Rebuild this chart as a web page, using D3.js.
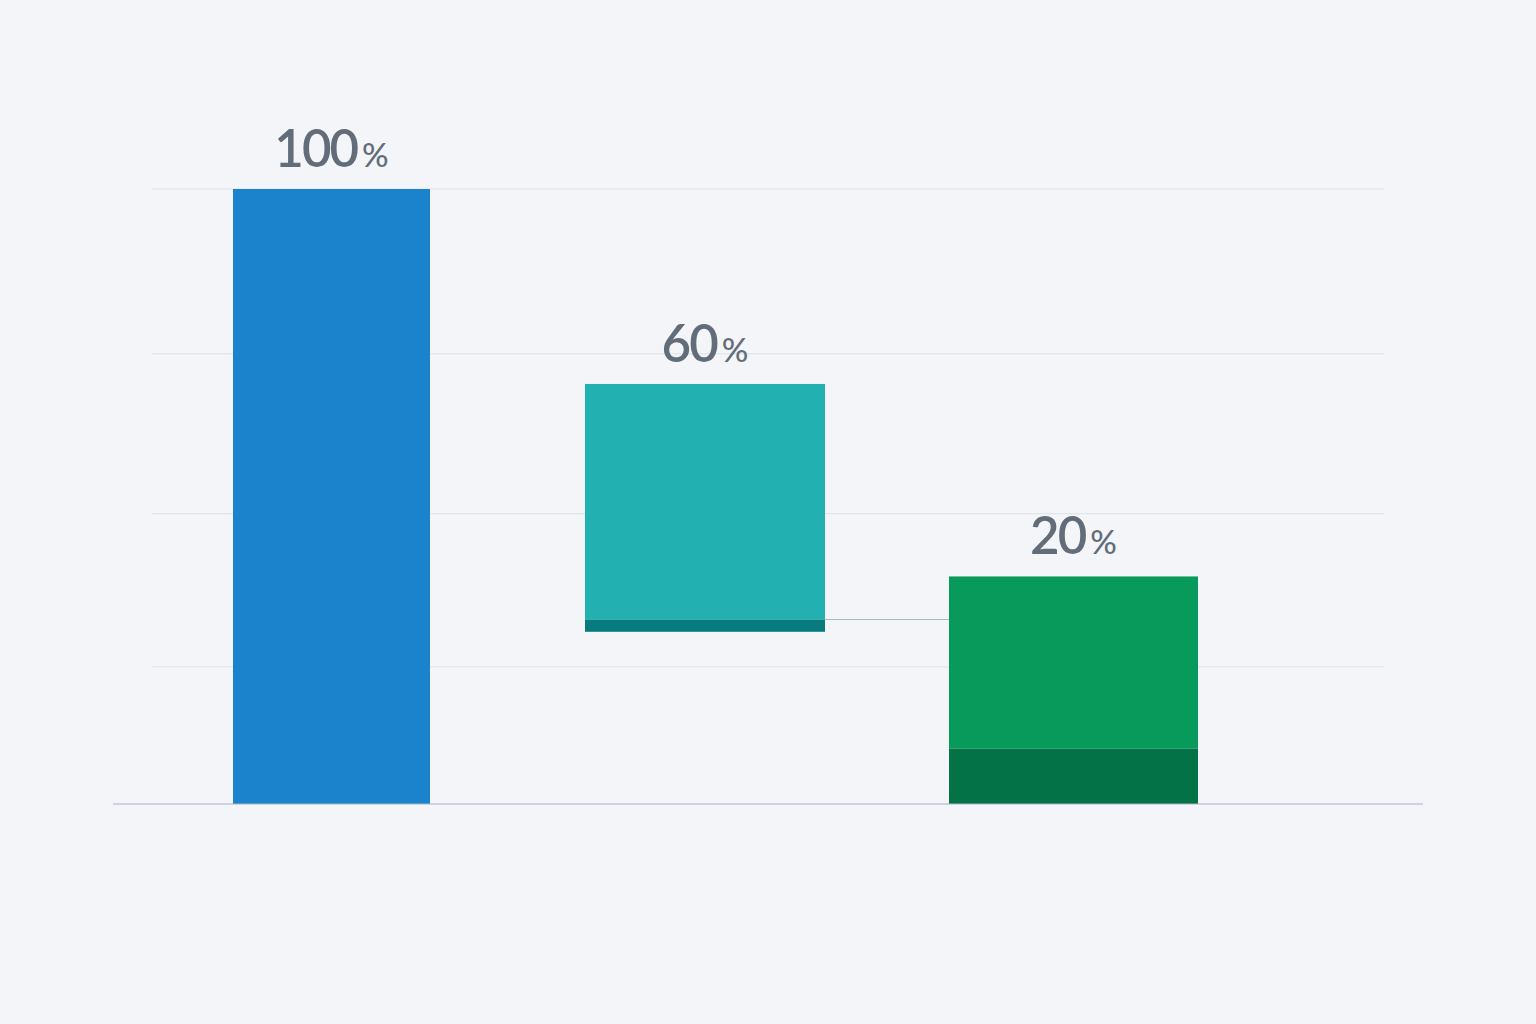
<!DOCTYPE html>
<html>
<head>
<meta charset="utf-8">
<script src="https://cdn.jsdelivr.net/npm/d3@7"></script>
<style>
  html, body { margin: 0; padding: 0; background: #f4f5f8; }
  svg { display: block; }
</style>
</head>
<body>
<svg width="1536" height="1024"></svg>
<script>
// data
var categories = ["A", "B", "C"];
var labels = ["100", "60", "20"];
// main segment [from, to] in % of first bar
var mainFrom = [0, 30, 9];
var mainTo = [100, 68.3, 37];
// darker base segment under each bar (none for first)
var baseFrom = [null, 28, 0];
var baseTo = [null, 30, 9];
var mainColors = ["#1a83cc", "#22b0b0", "#079a5a"];
var baseColors = [null, "#077b7d", "#037246"];
var gridValues = [100, 73.2, 47.2, 22.3];

var svg = d3.select("svg");

var y = d3.scaleLinear().domain([0, 100]).range([804, 189]);
// bars are not evenly spaced, keep a band per slot
var xLeft = d3.scaleOrdinal().domain(categories).range([233, 585, 949]);
var xWidth = d3.scaleOrdinal().domain(categories).range([197, 240, 249]);

// gridlines
svg.append("g").selectAll("line")
  .data(gridValues)
  .enter().append("line")
  .attr("x1", 152).attr("x2", 1384)
  .attr("y1", function(d) { return y(d); })
  .attr("y2", function(d) { return y(d); })
  .attr("stroke", "#dde1e8")
  .attr("stroke-width", 1);

// connector between 2nd and 3rd bar
svg.append("line")
  .attr("x1", xLeft("B") + xWidth("B"))
  .attr("x2", xLeft("C"))
  .attr("y1", y(30)).attr("y2", y(30))
  .attr("stroke", "#a3bcc4")
  .attr("stroke-width", 1.2);

var g = svg.append("g");

g.selectAll(".bar")
  .data(categories)
  .enter().append("rect")
  .attr("class", "bar")
  .attr("x", function(d) { return xLeft(d); })
  .attr("width", function(d) { return xWidth(d); })
  .attr("y", function(d, i) { return y(mainTo[i]); })
  .attr("height", function(d, i) { return y(mainFrom[i]) - y(mainTo[i]); })
  .attr("fill", function(d, i) { return mainColors[i]; });

g.selectAll(".base")
  .data(categories.filter(function(d, i) { return baseFrom[i] !== null; }))
  .enter().append("rect")
  .attr("class", "base")
  .attr("x", function(d) { return xLeft(d); })
  .attr("width", function(d) { return xWidth(d); })
  .attr("y", function(d) { var i = categories.indexOf(d); return y(baseTo[i]); })
  .attr("height", function(d) { var i = categories.indexOf(d); return y(baseFrom[i]) - y(baseTo[i]); })
  .attr("fill", function(d) { return baseColors[categories.indexOf(d)]; });

// baseline axis
svg.append("line")
  .attr("x1", 113).attr("x2", 1423)
  .attr("y1", y(0)).attr("y2", y(0))
  .attr("stroke", "#a6b4c8")
  .attr("stroke-width", 1.2);

// value labels
var t = svg.append("g").selectAll("text")
  .data(categories)
  .enter().append("text")
  .attr("x", function(d) { return xLeft(d) + xWidth(d) / 2; })
  .attr("y", function(d, i) { return y(mainTo[i]) - 22; })
  .attr("text-anchor", "middle")
  .attr("fill", "#636d7a")
  .style("font-family", "Lato, 'Open Sans', sans-serif")
  .style("font-weight", 600)
  .style("letter-spacing", "-2px");

t.append("tspan")
  .style("font-size", "51px")
  .text(function(d, i) { return labels[i]; });
t.append("tspan")
  .attr("dx", 5)
  .style("font-size", "33px")
  .style("font-weight", 500)
  .style("letter-spacing", "0px")
  .text("%");
</script>
</body>
</html>
